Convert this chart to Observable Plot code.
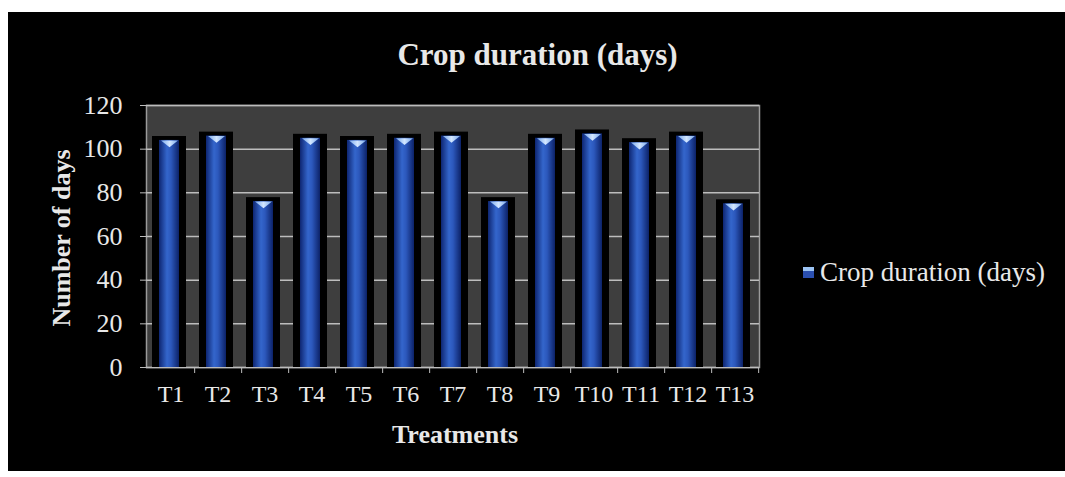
<!DOCTYPE html>
<html>
<head>
<meta charset="utf-8">
<script src="https://cdn.jsdelivr.net/npm/d3@7"></script>
<script src="https://cdn.jsdelivr.net/npm/@observablehq/plot@0.6"></script>
<style>
  html, body { margin: 0; padding: 0; background: #fff; }
  #page { position: relative; width: 1065px; height: 477px; overflow: hidden; background: #fff; }
  #panel { position: absolute; left: 8px; top: 12px; width: 1057px; height: 459px; background: #000; }
  #chart { position: absolute; left: 0; top: 0; }
  .t { position: absolute; font-family: "Liberation Serif", "Times New Roman", serif; color: #e8e8e8; white-space: nowrap; line-height: 1.15; }
  #title { left: 0; width: 1075px; top: 37px; text-align: center; font-weight: bold; font-size: 31px; }
  #xlabel { left: 0; width: 910px; top: 420px; text-align: center; font-weight: bold; font-size: 26px; }
  #ylabel { left: 62px; top: 238px; font-weight: bold; font-size: 26px; transform: translate(-50%, -50%) rotate(-90deg); }
  #legend { left: 803px; top: 257px; font-size: 27px; display: flex; align-items: center; }
  #legend .sw { width: 11px; height: 11px; background: linear-gradient(#9cc4f4 0 35%, #2a4fb0 35%); margin-right: 6px; }
</style>
</head>
<body>
<div id="page">
  <div id="panel"></div>
  <div id="chart"></div>
  <div class="t" id="title">Crop duration (days)</div>
  <div class="t" id="ylabel">Number of days</div>
  <div class="t" id="xlabel">Treatments</div>
  <div class="t" id="legend"><span class="sw"></span>Crop duration (days)</div>
</div>
<script>
const treatments = ["T1","T2","T3","T4","T5","T6","T7","T8","T9","T10","T11","T12","T13"];
const cropDuration = [104, 106, 76, 105, 104, 105, 106, 76, 105, 107, 103, 106, 75];
const yTicks = [0, 20, 40, 60, 80, 100, 120];

const data = treatments.map((t, i) => ({treatment: t, days: cropDuration[i]}));

// flat, wide downward triangle used as the bevel cap of each column
const capSymbol = {
  draw(context, size) {
    const r = Math.sqrt(size / Math.PI);
    const h = r * 0.8;
    context.moveTo(-r, -h / 2);
    context.lineTo(r, -h / 2);
    context.lineTo(0, h / 2);
    context.closePath();
  }
};

const chart = Plot.plot({
  width: 1065,
  height: 477,
  marginLeft: 146,
  marginRight: 306,
  marginTop: 105,
  marginBottom: 110,
  style: {background: "transparent", color: "#e8e8e8", fontFamily: "Liberation Serif, serif", fontSize: "24px"},
  x: {domain: treatments, padding: 0, label: null},
  y: {domain: [0, 120], label: null},
  marks: [
    Plot.frame({fill: "#3e3e3e", stroke: "#9a9a9a", strokeWidth: 1.5}),
    Plot.ruleY(yTicks, {stroke: "#bdbdbd", strokeWidth: 1.5}),
    Plot.barY(data, {x: "treatment", y1: 0, y2: d => d.days + 1.8, fill: "#000", insetLeft: 5, insetRight: 8}),
    Plot.barY(data, {x: "treatment", y: "days", fill: "url(#barGrad)", insetLeft: 12, insetRight: 15}),
    Plot.dot(data, {x: "treatment", y: "days", symbol: capSymbol, r: 8.5, fill: "url(#capGrad)", dx: -1.5, dy: 3.4}),
    Plot.axisY({ticks: yTicks, tickSize: 6, tickPadding: 18, stroke: "#bdbdbd", fontSize: 26, label: null}),
    Plot.axisX({tickSize: 0, tickPadding: 17, fontSize: 24, label: null}),
    Plot.axisX({tickSize: 6, text: null, dx: 23.65, stroke: "#bdbdbd", label: null})
  ]
});

const svg = d3.select(chart);
const defs = svg.insert("defs", ":first-child");
const g = defs.append("linearGradient").attr("id", "barGrad").attr("x1", "0").attr("x2", "1").attr("y1", "0").attr("y2", "0");
g.append("stop").attr("offset", "0%").attr("stop-color", "#0e2672");
g.append("stop").attr("offset", "40%").attr("stop-color", "#3466cc");
g.append("stop").attr("offset", "60%").attr("stop-color", "#2c58bc");
g.append("stop").attr("offset", "100%").attr("stop-color", "#0c2268");
const c = defs.append("linearGradient").attr("id", "capGrad").attr("x1", "0").attr("x2", "1").attr("y1", "0").attr("y2", "0");
c.append("stop").attr("offset", "0%").attr("stop-color", "#78a8ec");
c.append("stop").attr("offset", "50%").attr("stop-color", "#d2e6ff");
c.append("stop").attr("offset", "100%").attr("stop-color", "#78a8ec");

document.getElementById("chart").appendChild(chart);
</script>
</body>
</html>
